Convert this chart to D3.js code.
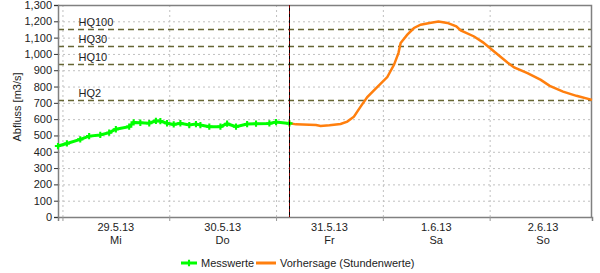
<!DOCTYPE html>
<html>
<head>
<meta charset="utf-8">
<script src="https://cdn.jsdelivr.net/npm/d3@7"></script>
<style>
  body { margin: 0; background: #fff; }
  svg { display: block; font-family: "Liberation Sans", Arial, sans-serif; }
</style>
</head>
<body>
<script>
'use strict';

const WIDTH = 600;
const HEIGHT = 273;

const MARGIN = {top: 5, right: 8, bottom: 56, left: 58};

// Messwerte (measured), hours after 29.5.13 00:00
const MEASURED_HOURS = [-1, 1, 4, 6, 8.5, 10.5, 12, 15, 16, 17.5, 19.5, 21, 22, 23.5, 25, 26.5,
    28.5, 30, 31, 33, 35.5, 37, 39, 41.5, 43.5, 46.5, 48, 51];
const MEASURED_VALUES = [435, 451, 476, 496, 503, 517, 538, 554, 580, 578, 575, 590, 588, 575, 568, 575,
    564, 570, 564, 554, 554, 572, 554, 570, 572, 574, 582, 574];

// Vorhersage (Stundenwerte), hours after 29.5.13 00:00
const FORECAST_HOURS = [51, 52.5, 57, 58, 60, 62.5, 64, 65.5, 67, 68.5, 70.5, 73, 74.5, 75.5, 76, 77.5,
    79, 80.5, 82.5, 84.5, 86.5, 88.5, 89.5, 92.5, 94.5, 97, 100, 101.5, 104.5, 107.5, 109.5, 112.5,
    115.5, 119];
const FORECAST_VALUES = [575, 568, 564, 558, 562, 570, 585, 615, 677, 735, 790, 858, 933, 1005, 1067, 1118,
    1159, 1179, 1190, 1198, 1190, 1169, 1144, 1107, 1071, 1015, 947, 917, 882, 841, 804, 769,
    743, 718];

const HQ_NAMES = ['HQ100', 'HQ30', 'HQ10', 'HQ2'];
const HQ_VALUES = [1150, 1050, 940, 720];

const DAY_LABELS = ['29.5.13', '30.5.13', '31.5.13', '1.6.13', '2.6.13'];
const WEEKDAY_LABELS = ['Mi', 'Do', 'Fr', 'Sa', 'So'];

const NOW_HOUR = 51;

const START = new Date(2013, 4, 29, 0, 0);
const X_DOMAIN = [new Date(2013, 4, 28, 23, 0), new Date(2013, 5, 2, 23, 0)];

const GREEN = '#00ff00';
const ORANGE = '#ff7f0e';
const OLIVE = '#666633';
const GRID = '#c0c0c0';
const FRAME = '#808080';

function hoursToDate(h) {
    return new Date(START.getTime() + h * 3600 * 1000);
}

function main() {
    const svg = d3.select('body').append('svg')
            .attr('width', WIDTH)
            .attr('height', HEIGHT);

    const x = d3.scaleTime()
            .domain(X_DOMAIN)
            .range([MARGIN.left, WIDTH - MARGIN.right]);

    const y = d3.scaleLinear()
            .domain([0, 1300])
            .range([HEIGHT - MARGIN.bottom, MARGIN.top]);

    const midnights = DAY_LABELS.map((d, i) => hoursToDate(i * 24));
    const noons = DAY_LABELS.map((d, i) => hoursToDate(i * 24 + 12));

    // Grid
    svg.append('g')
            .attr('transform', `translate(0,${HEIGHT - MARGIN.bottom})`)
            .call(d3.axisBottom(x).tickValues(midnights).tickSize(-(HEIGHT - MARGIN.top - MARGIN.bottom)).tickFormat(''))
            .call(g => g.select('.domain').remove())
            .call(g => g.selectAll('line').attr('stroke', GRID).attr('stroke-dasharray', '2,3'));

    svg.append('g')
            .attr('transform', `translate(${MARGIN.left},0)`)
            .call(d3.axisLeft(y).ticks(13).tickSize(-(WIDTH - MARGIN.left - MARGIN.right)).tickFormat(''))
            .call(g => g.select('.domain').remove())
            .call(g => g.selectAll('line').attr('stroke', GRID).attr('stroke-dasharray', '2,3'));

    // HQ lines
    const hq = svg.append('g');
    HQ_VALUES.forEach(function(v, i) {
        hq.append('line')
                .attr('x1', MARGIN.left)
                .attr('x2', WIDTH - MARGIN.right)
                .attr('y1', Math.round(y(v)) + 0.5)
                .attr('y2', Math.round(y(v)) + 0.5)
                .attr('stroke', OLIVE)
                .attr('stroke-width', 1.3)
                .attr('stroke-dasharray', '6,4');
        hq.append('text')
                .attr('x', x(hoursToDate(0)) + 16)
                .attr('y', y(v) - 3)
                .attr('font-size', 11)
                .attr('fill', '#222')
                .text(HQ_NAMES[i]);
    });

    // Frame (top and right)
    svg.append('path')
            .attr('d', `M${MARGIN.left},${MARGIN.top + 0.5}H${WIDTH - MARGIN.right - 0.5}V${HEIGHT - MARGIN.bottom}`)
            .attr('fill', 'none')
            .attr('stroke', FRAME)
            .attr('stroke-width', 1.5);

    // Axes
    const yAxis = svg.append('g')
            .attr('transform', `translate(${MARGIN.left},0)`)
            .call(d3.axisLeft(y).ticks(13).tickSize(4).tickPadding(2).tickFormat(d3.format(',')));
    yAxis.select('.domain').attr('stroke', FRAME).attr('stroke-width', 1.5);
    yAxis.selectAll('line').attr('stroke', '#333');
    yAxis.selectAll('text').attr('font-size', 11).attr('fill', '#222')
            .attr('font-family', '"Liberation Sans", Arial, sans-serif');

    const xAxis = svg.append('g')
            .attr('transform', `translate(0,${HEIGHT - MARGIN.bottom})`)
            .call(d3.axisBottom(x).tickValues(midnights).tickSize(4).tickFormat(''));
    xAxis.select('.domain').attr('stroke', FRAME).attr('stroke-width', 1.5);
    xAxis.selectAll('line').attr('stroke', '#999');

    const dayLabels = svg.append('g')
            .attr('font-size', 11)
            .attr('fill', '#222')
            .attr('text-anchor', 'middle');
    noons.forEach(function(d, i) {
        dayLabels.append('text')
                .attr('x', x(d))
                .attr('y', HEIGHT - MARGIN.bottom + 14)
                .text(DAY_LABELS[i]);
        dayLabels.append('text')
                .attr('x', x(d))
                .attr('y', HEIGHT - MARGIN.bottom + 27)
                .text(WEEKDAY_LABELS[i]);
    });

    svg.append('text')
            .attr('transform', `translate(21,${(MARGIN.top + HEIGHT - MARGIN.bottom) / 2 - 4}) rotate(-90)`)
            .attr('text-anchor', 'middle')
            .attr('font-size', 11)
            .attr('fill', '#222')
            .text('Abfluss [m3/s]');

    // Series
    const line = d3.line()
            .x(d => x(hoursToDate(d[0])))
            .y(d => y(d[1]));

    const measured = MEASURED_HOURS.map((h, i) => [h, MEASURED_VALUES[i]]);
    const forecast = FORECAST_HOURS.map((h, i) => [h, FORECAST_VALUES[i]]);

    svg.append('path')
            .datum(forecast)
            .attr('d', line)
            .attr('fill', 'none')
            .attr('stroke', ORANGE)
            .attr('stroke-width', 2.5);

    svg.append('path')
            .datum(measured)
            .attr('d', line)
            .attr('fill', 'none')
            .attr('stroke', GREEN)
            .attr('stroke-width', 3);

    const cross = d3.symbol().type(d3.symbolCross).size(22);
    svg.append('g')
            .selectAll('path')
            .data(measured)
            .join('path')
            .attr('transform', d => `translate(${x(hoursToDate(d[0]))},${y(d[1])})`)
            .attr('d', cross)
            .attr('fill', GREEN);

    // Now line
    const nowX = Math.round(x(hoursToDate(NOW_HOUR))) + 0.5;
    svg.append('line')
            .attr('x1', nowX).attr('x2', nowX)
            .attr('y1', MARGIN.top).attr('y2', HEIGHT - MARGIN.bottom)
            .attr('stroke', '#000');
    svg.append('line')
            .attr('x1', nowX).attr('x2', nowX)
            .attr('y1', MARGIN.top).attr('y2', HEIGHT - MARGIN.bottom)
            .attr('stroke', '#d00000')
            .attr('stroke-width', 0.6)
            .attr('stroke-dasharray', '3,3');

    // Legend
    const legend = svg.append('g')
            .attr('font-size', 11)
            .attr('fill', '#222');
    const ly = 263;
    legend.append('line')
            .attr('x1', 181).attr('x2', 197).attr('y1', ly).attr('y2', ly)
            .attr('stroke', GREEN).attr('stroke-width', 3);
    legend.append('path')
            .attr('transform', `translate(189,${ly})`)
            .attr('d', cross)
            .attr('fill', GREEN);
    legend.append('text')
            .attr('x', 201).attr('y', ly + 4)
            .text('Messwerte');
    legend.append('line')
            .attr('x1', 256).attr('x2', 276).attr('y1', ly).attr('y2', ly)
            .attr('stroke', ORANGE).attr('stroke-width', 3);
    legend.append('text')
            .attr('x', 280).attr('y', ly + 4)
            .text('Vorhersage (Stundenwerte)');
}

document.addEventListener('DOMContentLoaded', main);
</script>
</body>
</html>
